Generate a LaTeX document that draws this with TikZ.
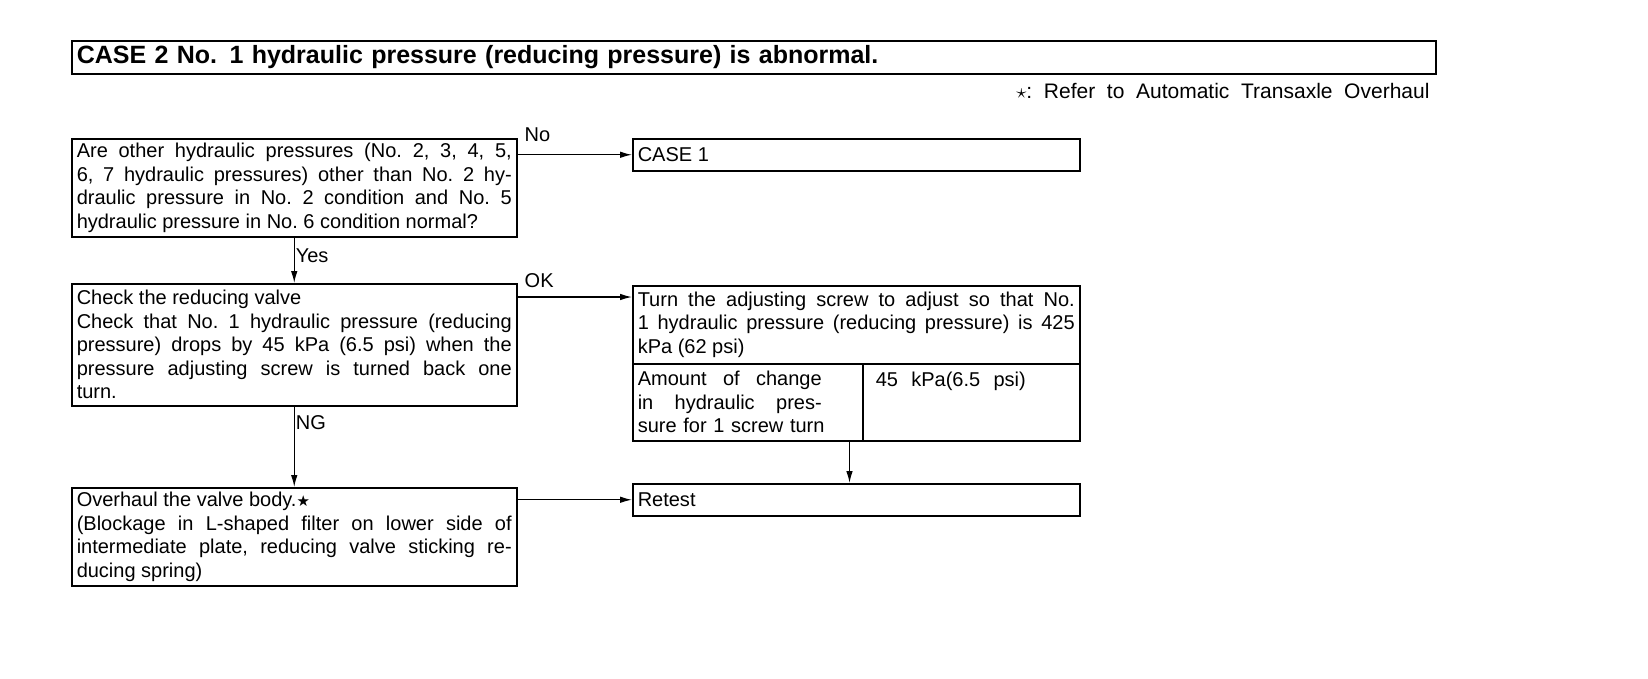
\documentclass[tikz,border=0pt]{standalone}
\usepackage{fontspec}
\setmainfont{Liberation Sans}
\newfontfamily\symfont{DejaVu Sans}
\usetikzlibrary{arrows.meta,positioning}

\begin{document}
\begin{tikzpicture}[x=1pt, y=-1pt, line cap=round, >={Latex[length=12pt,width=6.5pt]},
  every node/.style={font=\fontsize{20}{23.5}\selectfont\frenchspacing},
  box/.style={draw, line width=1.5pt, anchor=north west, align=justify, inner xsep=5pt, inner ysep=2pt},
  lbl/.style={inner sep=1pt},
  flow/.style={->, line width=1.2pt}]
\useasboundingbox (0,0) rectangle (1648,678);

% ---------- heading and note ----------
\node[box, align=left, text width=1354pt, minimum height=33pt, font=\fontsize{25}{28}\selectfont\bfseries] (title) at (71,40) {CASE 2 No. 1 hydraulic pressure (reducing pressure) is abnormal.};
\node[anchor=east, font=\fontsize{21}{24}\selectfont] (note) at (1433,91) {$\star$:\ \ Refer\ \ to\ \ Automatic\ \ Transaxle\ \ Overhaul};

% ---------- left column: checks ----------
\node[box, text width=435pt, minimum height=98pt] (q1) at (71,138) {\tolerance=10000 Are other hydraulic pressures (No. 2, 3, 4, 5,\linebreak 6, 7 hydraulic pressures) other than No. 2 hy-\linebreak draulic pressure in No. 2 condition and No. 5\linebreak hydraulic pressure in No. 6 condition normal?};
\node[box, text width=435pt, minimum height=122pt] (chk) at (71,283) {\tolerance=10000 Check the reducing valve\\ Check that No. 1 hydraulic pressure (reducing\linebreak pressure) drops by 45 kPa (6.5 psi) when the\linebreak pressure adjusting screw is turned back one\linebreak turn.};
\node[box, text width=435pt, minimum height=98pt] (ovh) at (71,487) {\tolerance=10000 Overhaul the valve body.{\symfont\fontsize{15}{18}\selectfont ★}\\ (Blockage in L-shaped filter on lower side of\linebreak intermediate plate, reducing valve sticking re-\linebreak ducing spring)};

% ---------- right column: results ----------
\node[box, text width=437pt, minimum height=32pt] (case1) at (632,138) {CASE 1};
\node[box, text width=437pt, minimum height=78pt] (turn) at (632,285) {\tolerance=10000 Turn the adjusting screw to adjust so that No.\linebreak 1 hydraulic pressure (reducing pressure) is 425\linebreak kPa (62 psi)};
\node[box, align=left, text width=220pt, minimum height=77pt] (amt) at (632,363) {\leavevmode\hbox to 184pt{Amount\hfill of\hfill change}\\ \leavevmode\hbox to 184pt{in\hfill hydraulic\hfill pres-}\\ \leavevmode\hbox to 184pt{sure for 1 screw turn\hfill}};
\node[box, align=left, text width=207pt, minimum height=77pt] (val) at (862,363) {\hspace*{8pt}45\ \ kPa(6.5\ \ psi)\\ \mbox{}\\ \mbox{}};
\node[box, text width=437pt, minimum height=32pt] (retest) at (632,483) {Retest};

% ---------- connectors ----------
\coordinate (okin) at ([yshift=-12pt]turn.north west);
\draw[flow] (q1.east |- case1.west) -- (case1.west);
\node[lbl, anchor=west] (lno) at ([xshift=6pt,yshift=3pt]q1.north east) {No};
\draw[flow] (q1.south) -- node[lbl, right, pos=0.4] (lyes) {Yes} (chk.north);
\draw[flow] (chk.east |- okin) -- (okin);
\node[lbl, anchor=west] (lok) at ([xshift=6pt,yshift=2pt]chk.north east) {OK};
\draw[flow] (chk.south) -- node[lbl, right, pos=0.2] (lng) {NG} (ovh.north);
\draw[flow] (ovh.east |- retest.west) -- (retest.west);
\draw[flow] ([xshift=-14pt]amt.south east) -- ([xshift=-14pt]amt.south east |- retest.north);

\end{tikzpicture}
\end{document}
